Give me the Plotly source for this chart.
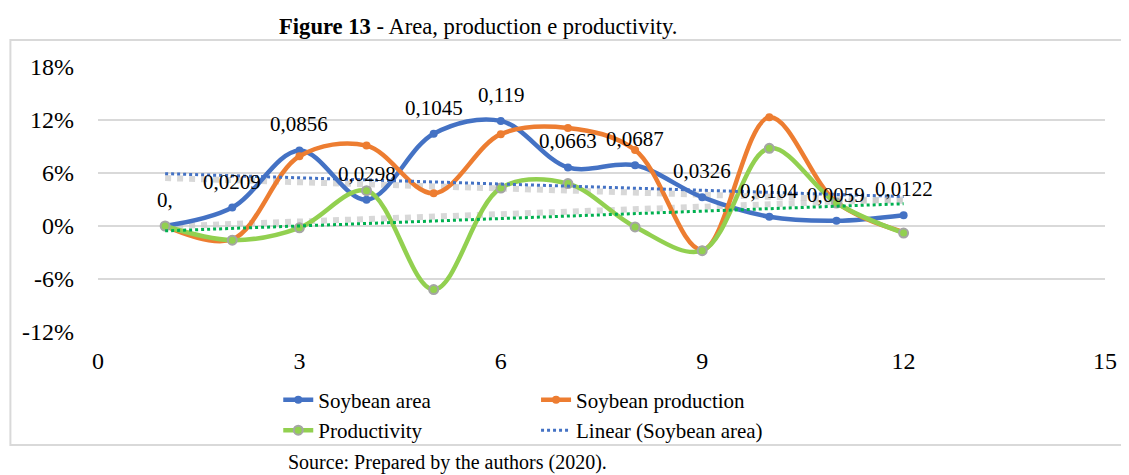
import numpy as np
import plotly.graph_objects as go

# ---- data ----
x_vals = [1, 2, 3, 4, 5, 6, 7, 8, 9, 10, 11, 12]
soy_area = [0, 0.0209, 0.0856, 0.0298, 0.1045, 0.119, 0.0663, 0.0687, 0.0326, 0.0104, 0.0059, 0.0122]
soy_production = [0, -0.015, 0.079, 0.091, 0.037, 0.104, 0.111, 0.086, -0.027, 0.123, 0.027, -0.007]
productivity = [0, -0.016, -0.002, 0.040, -0.072, 0.043, 0.048, -0.001, -0.028, 0.088, 0.026, -0.008]
area_labels = ["0,", "0,0209", "0,0856", "0,0298", "0,1045", "0,119", "0,0663",
               "0,0687", "0,0326", "0,0104", "0,0059", "0,0122"]
y_tickvals = [-0.12, -0.06, 0, 0.06, 0.12, 0.18]
y_ticktext = ["-12%", "-6%", "0%", "6%", "12%", "18%"]
x_tickvals = [0, 3, 6, 9, 12, 15]

# ---- styles ----
FONT = "Liberation Serif, Times New Roman, serif"
BLUE = "#4472C4"
ORANGE = "#ED7D31"
GREEN = "#92D050"
TREND_GREEN = "#00B050"
GRAY = "#A5A5A5"
SHADOW = "rgba(200,200,200,0.7)"
SHADOW_OFFSET = 0.005

# linear trendlines (least squares, like Excel)
xa = np.array(x_vals, dtype=float)
ca = np.polyfit(xa, soy_area, 1)
cp = np.polyfit(xa, productivity, 1)
trend_area = np.polyval(ca, xa)
trend_prod = np.polyval(cp, xa)

fig = go.Figure()

# soft gray shadow of trendlines
fig.add_trace(go.Scatter(x=x_vals, y=trend_area - SHADOW_OFFSET, mode="lines",
                         line=dict(color=SHADOW, width=6, dash="dot"),
                         showlegend=False, hoverinfo="skip"))
fig.add_trace(go.Scatter(x=x_vals, y=trend_prod + SHADOW_OFFSET, mode="lines",
                         line=dict(color=SHADOW, width=6, dash="dot"),
                         showlegend=False, hoverinfo="skip"))

fig.add_trace(go.Scatter(x=x_vals, y=soy_area, name="Soybean area", mode="lines+markers",
                         line=dict(color=BLUE, width=4.5, shape="spline", smoothing=1),
                         marker=dict(color=BLUE, size=8), legend="legend"))
fig.add_trace(go.Scatter(x=x_vals, y=soy_production, name="Soybean production", mode="lines+markers",
                         line=dict(color=ORANGE, width=4.5, shape="spline", smoothing=1),
                         marker=dict(color=ORANGE, size=8), legend="legend2"))
fig.add_trace(go.Scatter(x=x_vals, y=productivity, name="Productivity", mode="lines+markers",
                         line=dict(color=GREEN, width=4.5, shape="spline", smoothing=1),
                         marker=dict(color=GREEN, size=9, line=dict(color=GRAY, width=2)),
                         legend="legend"))
fig.add_trace(go.Scatter(x=x_vals, y=trend_area, name="Linear (Soybean area)", mode="lines",
                         line=dict(color=BLUE, width=3, dash="dot"), legend="legend2"))
fig.add_trace(go.Scatter(x=x_vals, y=trend_prod, name="Linear (Productivity)", mode="lines",
                         line=dict(color=TREND_GREEN, width=3, dash="dot"), showlegend=False))

# data labels on the soybean area series
for xv, yv, lab in zip(x_vals, soy_area, area_labels):
    fig.add_annotation(x=xv, y=yv, text=lab, showarrow=False, yshift=26,
                       xanchor="center", yanchor="middle",
                       font=dict(family=FONT, size=21, color="black"))

# frame
fig.add_shape(type="rect", xref="paper", yref="paper",
              x0=-0.087, x1=1.05, y0=-0.4264, y1=1.1019,
              line=dict(color="#D9D9D9", width=2), layer="below")

# title and source
fig.add_annotation(xref="paper", yref="paper", x=0.377, y=1.151, showarrow=False,
                   xanchor="center", yanchor="middle",
                   text="<b>Figure 13</b> - Area, production e productivity.",
                   font=dict(family=FONT, size=22.6, color="black"))
fig.add_annotation(xref="paper", yref="paper", x=0.3475, y=-0.4906, showarrow=False,
                   xanchor="center", yanchor="middle",
                   text="Source: Prepared by the authors (2020).",
                   font=dict(family=FONT, size=20, color="black"))

legend_common = dict(orientation="v", yanchor="top", xanchor="left",
                     font=dict(family=FONT, size=21, color="black"),
                     bgcolor="rgba(0,0,0,0)", tracegroupgap=0)

fig.update_layout(
    width=1121, height=467,
    margin=dict(l=90, r=18, t=59, b=143),
    paper_bgcolor="white", plot_bgcolor="white",
    font=dict(family=FONT, color="black"),
    showlegend=True,
    legend=dict(x=0.179, y=-0.18, **legend_common),
    legend2=dict(x=0.435, y=-0.18, **legend_common),
    xaxis=dict(range=[0, 15], tickvals=x_tickvals, showgrid=False, zeroline=False,
               showline=False, ticks="", tickfont=dict(family=FONT, size=24),
               ticklabelstandoff=12),
    yaxis=dict(range=[-0.12, 0.18], tickvals=y_tickvals, ticktext=y_ticktext,
               showgrid=True, gridcolor="#D9D9D9", gridwidth=2, zeroline=False,
               showline=False, ticks="", tickfont=dict(family=FONT, size=24),
               ticklabelstandoff=23),
)

fig.write_html("out.html")
